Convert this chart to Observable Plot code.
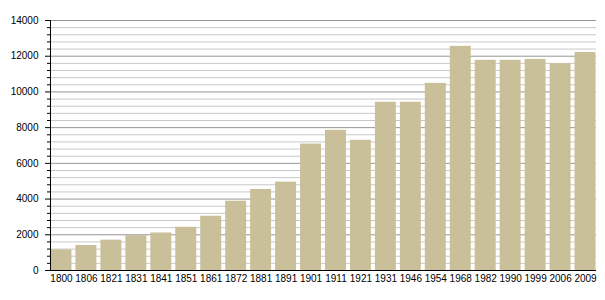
<!DOCTYPE html>
<html>
<head>
<meta charset="utf-8">
<script src="https://cdn.jsdelivr.net/npm/d3@7"></script>
<script src="https://cdn.jsdelivr.net/npm/@observablehq/plot@0.6"></script>
<style>
  html, body { margin: 0; padding: 0; background: #fff; }
  #chart { width: 605px; height: 300px; }
  svg { font-family: "Liberation Sans", Arial, sans-serif; }
</style>
</head>
<body>
<div id="chart"></div>
<script>
const years = ["1800","1806","1821","1831","1841","1851","1861","1872","1881","1891","1901","1911","1921","1931","1946","1954","1968","1982","1990","1999","2006","2009"];
const population = [1160,1400,1700,1950,2100,2420,3040,3880,4540,4950,7080,7850,7290,9420,9420,10480,12550,11770,11770,11820,11580,12210];
const majorTicks = [0,2000,4000,6000,8000,10000,12000,14000];
const minorStep = 400;
const minorTicks = d3.range(0, 14000 + 1, minorStep).filter(v => v % 2000 !== 0);

const data = years.map((y, i) => ({year: y, value: population[i]}));

const chart = Plot.plot({
  width: 605,
  height: 300,
  marginTop: 20,
  marginBottom: 30,
  marginLeft: 50,
  marginRight: 9,
  style: {fontSize: "10px", fontFamily: "Liberation Sans, Arial, sans-serif", background: "#fff", color: "#000"},
  x: {domain: years, paddingInner: 0.16, paddingOuter: 0.02, round: false, label: null},
  y: {domain: [0, 14000], label: null},
  marks: [
    Plot.ruleY(minorTicks, {stroke: "#c8c8c8", strokeWidth: 1, strokeOpacity: 1}),
    Plot.ruleY(majorTicks, {stroke: "#969696", strokeWidth: 1, strokeOpacity: 1}),
    Plot.barY(data, {x: "year", y: "value", fill: "#c9bf98"}),
    Plot.axisX({tickSize: 0, tickPadding: 4, fontSize: 10}),
    Plot.axisY({ticks: majorTicks, tickSize: 5, tickPadding: 7, tickFormat: d => String(d), fontSize: 10}),
    Plot.axisY({ticks: minorTicks, tickSize: 3, tickFormat: () => ""}),
    Plot.frame({anchor: "left", stroke: "#000"}),
    Plot.ruleY([0], {stroke: "#000"})
  ]
});
document.getElementById("chart").appendChild(chart);
</script>
</body>
</html>
